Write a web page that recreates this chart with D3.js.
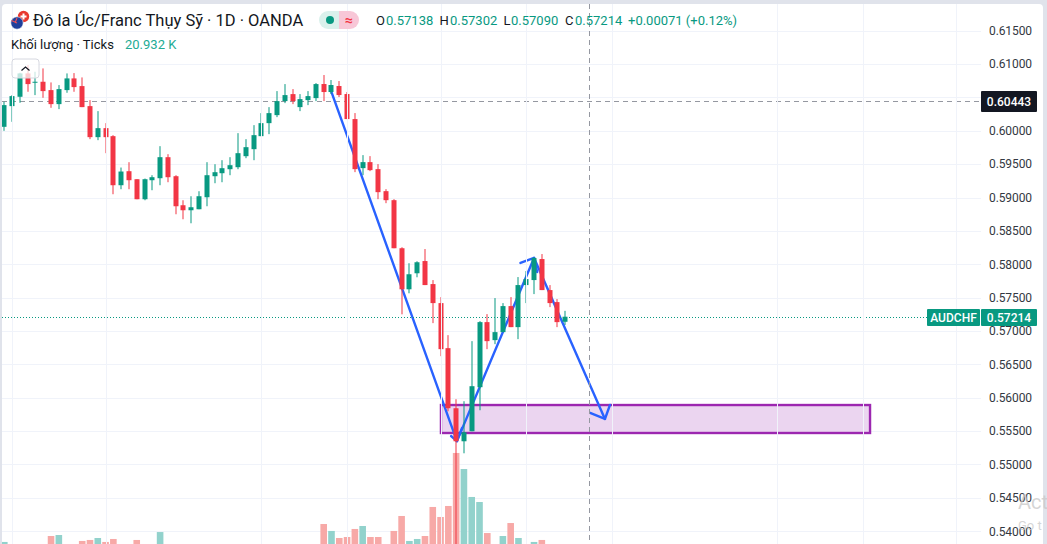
<!DOCTYPE html>
<html>
<head>
<meta charset="utf-8">
<style>
  body { margin: 0; background: #e0e3eb; }
  svg { display: block; font-family: Roboto, sans-serif; }
  .tick text { font-size: 12px; fill: #333842; letter-spacing: -0.1px; }
</style>
<script src="https://cdn.jsdelivr.net/npm/d3@7"></script>
</head>
<body>
<div id="chart"></div>
<script>
// candles, one entry per trading day
const opens = [0.60059,0.60369,0.60509,0.60859,0.60719,0.60734,0.60609,0.60399,0.60609,0.60784,0.60669,0.60369,0.59904,0.60039,0.59919,0.59184,0.59394,0.59274,0.58974,0.59259,0.59289,0.59604,0.59319,0.58884,0.58809,0.58824,0.59004,0.59319,0.59364,0.59424,0.59454,0.59619,0.59724,0.59919,0.60114,0.60234,0.60444,0.60549,0.60354,0.60459,0.60489,0.60700,0.60580,0.60670,0.60550,0.60175,0.59440,0.59530,0.59425,0.59095,0.58960,0.58240,0.57625,0.57865,0.58048,0.57703,0.57418,0.56743,0.55843,0.55348,0.55498,0.56158,0.57133,0.56863,0.56983,0.57373,0.57058,0.57688,0.57763,0.58078,0.57613,0.57433,0.57138];
const highs = [0.60434,0.60534,0.60869,0.60984,0.60884,0.60934,0.60724,0.60684,0.60859,0.60864,0.60799,0.60459,0.60294,0.60114,0.59934,0.59449,0.59529,0.59274,0.59284,0.59334,0.59769,0.59649,0.59334,0.58959,0.59019,0.59094,0.59529,0.59499,0.59559,0.59604,0.59964,0.59874,0.60084,0.60264,0.60354,0.60594,0.60699,0.60624,0.60549,0.60594,0.60714,0.60835,0.60760,0.60745,0.60580,0.60265,0.59635,0.59620,0.59500,0.59125,0.58975,0.58255,0.58015,0.58045,0.58228,0.57763,0.57508,0.56938,0.55978,0.55948,0.56848,0.57148,0.57253,0.57493,0.57418,0.57508,0.57808,0.57898,0.58108,0.58153,0.57688,0.57478,0.57302];
const lows = [0.59999,0.60134,0.60419,0.60584,0.60534,0.60494,0.60344,0.60324,0.60569,0.60584,0.60354,0.59874,0.59859,0.59664,0.59049,0.59124,0.59124,0.58974,0.58959,0.59109,0.59184,0.59229,0.58749,0.58674,0.58614,0.58824,0.58869,0.59214,0.59229,0.59334,0.59424,0.59589,0.59559,0.59919,0.59949,0.60204,0.60414,0.60399,0.60294,0.60384,0.60444,0.60445,0.60550,0.60505,0.60175,0.59380,0.59335,0.59395,0.58975,0.58915,0.58240,0.57250,0.57565,0.57805,0.57688,0.57118,0.56623,0.55798,0.53780,0.55168,0.55498,0.55813,0.56728,0.56803,0.56983,0.57058,0.56878,0.57418,0.57553,0.57613,0.57358,0.57058,0.57090];
const closes = [0.60384,0.60519,0.60859,0.60699,0.60734,0.60594,0.60399,0.60624,0.60784,0.60654,0.60354,0.59904,0.60039,0.59904,0.59184,0.59389,0.59259,0.58974,0.59274,0.59304,0.59604,0.59304,0.58869,0.58809,0.58854,0.59019,0.59334,0.59379,0.59439,0.59484,0.59664,0.59754,0.59934,0.60114,0.60264,0.60444,0.60534,0.60444,0.60474,0.60519,0.60699,0.60580,0.60685,0.60535,0.60175,0.59425,0.59530,0.59410,0.59080,0.58960,0.58240,0.57625,0.57850,0.58030,0.57688,0.57418,0.56728,0.55843,0.55348,0.55483,0.56173,0.57133,0.56848,0.56983,0.57373,0.57058,0.57688,0.57778,0.58093,0.57613,0.57418,0.57133,0.57214];
// volume in thousand ticks; bars under the page edge are rough guesses
const volumes = [25.5,20,21,19,18,22,30.9,31.8,21,20,26.4,27.3,29.1,25.5,28.2,22,21,27.3,20,19,34.5,22,23,20,21,19,22,18,17,19,22,20,21,19,20,22,18,17,19,18,20,41.8,35.5,29.1,30,37.3,40,30,30,23,35.5,49.1,26.4,28.2,30.9,57.3,48.2,58.2,106.4,91.8,66.4,61.8,33.6,23,30.9,42.7,29.1,22,25.5,27.3,22,21,20.932];

const gridPrices = [0.54,0.545,0.55,0.555,0.56,0.565,0.57,0.575,0.58,0.585,0.59,0.595,0.6,0.605,0.61,0.615];
// 0.605 sits behind the crosshair tag, so it has no label
const priceTicks = [0.54,0.545,0.55,0.555,0.56,0.565,0.57,0.575,0.58,0.585,0.59,0.595,0.6,0.61,0.615];
const gridBars = [1,13,33,44,56,67,78,99.15,110.17,122.2];

const crossBar = 75, crossPrice = 0.60443, lastPrice = 0.57214;

// drawings: [bar, price] points
const arrowDown1 = [[42,0.6058],[58.1,0.5535]];
const arrowDown1Head = [[57.35,0.55427],[58.1,0.5535],[58.76,0.55547]];
const arrowUp = [[58.1,0.5535],[68,0.58094]];
const arrowUpHead = [[66.26,0.58019],[68,0.58094],[68.4,0.57884]];
const arrowDown2 = [[68,0.58094],[77.1,0.55682]];
const arrowDown2Head = [[75.2,0.55772],[77.1,0.55682],[77.75,0.55892]];
const zoneBars = [56.05,111.13], zonePrices = [0.55891,0.55472];

const legendLabels = ['O','H','L','C'];
const legendValues = ['0.57138','0.57302','0.57090','0.57214'];

const svgWidth = 1047, svgHeight = 544;
const plotRight = 981;
const green = '#089981', red = '#f23645';

const x = d3.scaleLinear().domain([0,72]).range([4.3,565.2]);
const y = d3.scaleLinear().domain([0.54,0.61]).range([531.25,64]);
const volY = d3.scaleLinear().domain([0,120]).range([570,438]);

const svg = d3.select('#chart').append('svg')
  .attr('width', svgWidth)
  .attr('height', svgHeight);

svg.append('path')
  .attr('d', 'M2 544V8a4 4 0 0 1 4-4H1039a4 4 0 0 1 4 4V544Z')
  .attr('fill', '#fff');

const defs = svg.append('defs');
defs.append('clipPath').attr('id', 'plot').append('rect')
  .attr('x', 2).attr('y', 4).attr('width', plotRight - 2).attr('height', 540);

const chart = svg.append('g').attr('clip-path', 'url(#plot)');

// grid
chart.append('g').selectAll('line').data(gridPrices).enter().append('line')
  .attr('x1', 2).attr('x2', plotRight)
  .attr('y1', d => Math.round(y(d)) + 0.5).attr('y2', d => Math.round(y(d)) + 0.5)
  .attr('stroke', '#f0f3fa');
svg.append('g').selectAll('line').data(gridBars).enter().append('line')
  .attr('x1', d => Math.round(x(d)) + 0.5).attr('x2', d => Math.round(x(d)) + 0.5)
  .attr('y1', 4).attr('y2', 544)
  .attr('stroke', '#f0f3fa');

// volume
chart.append('g').selectAll('rect').data(volumes).enter().append('rect')
  .attr('x', (d, i) => x(i) - 3.3)
  .attr('width', 6.6)
  .attr('y', d => volY(d))
  .attr('height', d => volY(0) - volY(d))
  .attr('fill', (d, i) => closes[i] >= opens[i] ? '#92d2cc' : '#f7a9a7');

// crosshair
svg.append('line')
  .attr('x1', Math.round(x(crossBar)) + 0.5).attr('x2', Math.round(x(crossBar)) + 0.5)
  .attr('y1', 4).attr('y2', 544)
  .attr('stroke', '#9598a1').attr('stroke-dasharray', '5 4');
chart.append('line')
  .attr('x1', 2).attr('x2', plotRight)
  .attr('y1', Math.round(y(crossPrice)) + 0.5).attr('y2', Math.round(y(crossPrice)) + 0.5)
  .attr('stroke', '#9598a1').attr('stroke-dasharray', '5 4');

// zone and arrows sit under the candles
chart.append('rect')
  .attr('x', x(zoneBars[0])).attr('width', x(zoneBars[1]) - x(zoneBars[0]))
  .attr('y', y(zonePrices[0])).attr('height', y(zonePrices[1]) - y(zonePrices[0]))
  .attr('fill', '#ebd5f0').attr('stroke', '#9c27b0').attr('stroke-width', 2.4);

const arrowLine = d3.line().x(d => x(d[0])).y(d => y(d[1]));
[arrowDown1, arrowDown1Head, arrowUp, arrowUpHead, arrowDown2, arrowDown2Head].forEach(pts => {
  chart.append('path')
    .attr('d', arrowLine(pts))
    .attr('fill', 'none')
    .attr('stroke', '#2962ff')
    .attr('stroke-width', 2.4)
    .attr('stroke-linejoin', 'round')
    .attr('stroke-linecap', 'round');
});

// last price line
chart.append('line')
  .attr('x1', 2).attr('x2', 927)
  .attr('y1', Math.round(y(lastPrice)) + 0.5).attr('y2', Math.round(y(lastPrice)) + 0.5)
  .attr('stroke', green).attr('stroke-dasharray', '1 2');

// candles
const candles = chart.append('g').selectAll('g').data(opens).enter().append('g')
  .attr('fill', (d, i) => closes[i] >= d ? green : red);
candles.append('rect')
  .attr('x', (d, i) => Math.round(x(i)) - 0.5)
  .attr('width', 1)
  .attr('y', (d, i) => y(highs[i]))
  .attr('height', (d, i) => y(lows[i]) - y(highs[i]));
candles.append('rect')
  .attr('x', (d, i) => Math.round(x(i)) - 2.5)
  .attr('width', 5)
  .attr('y', (d, i) => y(Math.max(d, closes[i])))
  .attr('height', (d, i) => Math.max(1, Math.abs(y(d) - y(closes[i]))));

// price axis
const axis = svg.append('g')
  .attr('transform', `translate(${plotRight},0)`)
  .call(d3.axisRight(y).tickValues(priceTicks).tickFormat(d3.format('.5f')).tickSize(0).tickPadding(8));
axis.select('.domain').remove();
axis.selectAll('text').attr('font-family', 'Roboto, sans-serif');

// axis labels
function tag(x0, x1, yMid, h, fill, label, color) {
  svg.append('rect')
    .attr('x', x0).attr('y', yMid - h / 2).attr('width', x1 - x0).attr('height', h)
    .attr('rx', 1).attr('fill', fill);
  svg.append('text')
    .attr('x', (x0 + x1) / 2).attr('y', yMid + 4.5)
    .attr('text-anchor', 'middle')
    .attr('font-size', 12).attr('font-weight', 500)
    .attr('fill', color).text(label);
}
tag(981, 1037, 101.5, 21, '#131722', '0.60443', '#fff');
tag(927, 980, 317.5, 17, green, 'AUDCHF', '#fff');
tag(981, 1037, 317.5, 17, green, '0.57214', '#fff');

// collapse button
const btn = svg.append('g');
btn.append('rect')
  .attr('x', 12).attr('y', 59).attr('width', 27).attr('height', 19).attr('rx', 3)
  .attr('fill', 'rgba(255,255,255,0.75)').attr('stroke', '#d6d8e0');
btn.append('path')
  .attr('d', 'M21.5 70.5l4-3.5 4 3.5')
  .attr('fill', 'none').attr('stroke', '#131722').attr('stroke-width', 1.2);

// symbol icon
svg.append('circle').attr('cx', 23.5).attr('cy', 16.5).attr('r', 5.7).attr('fill', '#e8392f');
svg.append('path').attr('d', 'M22.5 13.5h2v2h2v2h-2v2h-2v-2h-2v-2h2z').attr('fill', '#fff');
svg.append('circle').attr('cx', 17).attr('cy', 23).attr('r', 6.2).attr('fill', '#1f3f9a').attr('stroke', '#fff').attr('stroke-width', 0.6);
svg.append('path').attr('d', 'M11.5 20.5L17 23M17 18l-2 5').attr('stroke', '#e8505b').attr('stroke-width', 1.1);

// header
svg.append('text').attr('x', 33).attr('y', 25.5)
  .attr('font-size', 16.5).attr('fill', '#131722')
  .text('Đô la Úc/Franc Thụy Sỹ · 1D · OANDA');

svg.append('path').attr('d', 'M339 11H328a9 9 0 0 0 0 18H339Z').attr('fill', '#daf1ec');
svg.append('path').attr('d', 'M339 11H350a9 9 0 0 1 0 18H339Z').attr('fill', '#f8c7d7');
svg.append('circle').attr('cx', 330).attr('cy', 20).attr('r', 4).attr('fill', green);
svg.append('text').attr('x', 349).attr('y', 24.5).attr('text-anchor', 'middle')
  .attr('font-size', 14).attr('font-weight', 700).attr('fill', red).text('≈');

const labelX = [376, 439.5, 503.5, 565], valueX = [386, 450, 511, 575];
legendLabels.forEach((l, i) => {
  svg.append('text').attr('x', labelX[i]).attr('y', 24.5)
    .attr('font-size', 13).attr('fill', '#131722').text(l);
  svg.append('text').attr('x', valueX[i]).attr('y', 24.5)
    .attr('font-size', 13).attr('fill', green).text(legendValues[i]);
});
svg.append('text').attr('x', 628).attr('y', 24.5)
  .attr('font-size', 13).attr('fill', green).text('+0.00071 (+0.12%)');

svg.append('text').attr('x', 11).attr('y', 49)
  .attr('font-size', 13).attr('fill', '#131722').text('Khối lượng · Ticks');
svg.append('text').attr('x', 125).attr('y', 49)
  .attr('font-size', 13).attr('fill', '#22ab94').text('20.932 K');

// windows watermark
svg.append('text').attr('x', 1018).attr('y', 509)
  .attr('font-size', 20).attr('fill', '#c8c8c8').attr('fill-opacity', 0.75).text('Act');
svg.append('text').attr('x', 1018).attr('y', 530)
  .attr('font-size', 13).attr('fill', '#c8c8c8').attr('fill-opacity', 0.75).text('Go t');
</script>
</body>
</html>
